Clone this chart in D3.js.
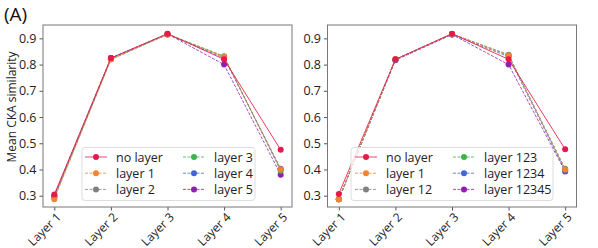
<!DOCTYPE html>
<html>
<head>
<meta charset="utf-8">
<script src="https://cdn.jsdelivr.net/npm/d3@7"></script>
<style>
  body { margin: 0; background: #fff; }
  text { font-family: "Open Sans", sans-serif; }
</style>
</head>
<body>
<div class="canvas"></div>
<script>
const width = 598;
const height = 248;

// data
const layers = ["Layer 1", "Layer 2", "Layer 3", "Layer 4", "Layer 5"];
const yTicks = [0.3, 0.4, 0.5, 0.6, 0.7, 0.8, 0.9];
const colors = ["#e6194b", "#f58231", "#808080", "#3cb44b", "#4363d8", "#911eb4"];

const namesA = ["no layer", "layer 1", "layer 2", "layer 3", "layer 4", "layer 5"];
const noLayerA = [0.305, 0.825, 0.918, 0.820, 0.475];
const layer1A = [0.287, 0.820, 0.915, 0.830, 0.400];
const layer2A = [0.293, 0.820, 0.915, 0.830, 0.400];
const layer3A = [0.295, 0.820, 0.917, 0.832, 0.395];
const layer4A = [0.297, 0.825, 0.915, 0.825, 0.403];
const layer5A = [0.300, 0.825, 0.917, 0.800, 0.380];

const namesB = ["no layer", "layer 1", "layer 12", "layer 123", "layer 1234", "layer 12345"];
const noLayerB = [0.307, 0.820, 0.918, 0.820, 0.477];
const layer1B = [0.287, 0.820, 0.917, 0.835, 0.400];
const layer12B = [0.287, 0.820, 0.917, 0.838, 0.400];
const layer123B = [0.287, 0.820, 0.917, 0.835, 0.403];
const layer1234B = [0.287, 0.818, 0.915, 0.830, 0.395];
const layer12345B = [0.287, 0.817, 0.915, 0.800, 0.392];

const svg = d3.select(".canvas")
  .append("svg")
  .attr("width", width)
  .attr("height", height);

svg.append("text")
  .attr("x", 4)
  .attr("y", 21)
  .attr("font-size", 19)
  .attr("fill", "#111")
  .text("(A)");

svg.append("text")
  .attr("transform", "translate(15.5, 107) rotate(-90)")
  .attr("text-anchor", "middle")
  .attr("font-size", 12)
  .attr("fill", "#222")
  .text("Mean CKA similarity");

function panel(left, series, names, legendBox) {
  const top = 25, bottom = 207, w = 249;
  const g = svg.append("g");

  const x = d3.scalePoint().domain(layers).range([left, left + w]).padding(0.2);
  const y = d3.scaleLinear().domain([0.257, 0.951]).range([bottom, top]);

  // y axis ticks
  const ya = g.append("g")
    .attr("transform", `translate(${left},0)`)
    .call(d3.axisLeft(y).tickValues(yTicks).tickFormat(d3.format(".1f")).tickSize(3.5).tickPadding(3));
  ya.select(".domain").remove();
  ya.selectAll("line").attr("stroke", "#555");
  ya.selectAll("text").attr("font-size", 12.5).attr("fill", "#222").attr("font-family", "Open Sans, sans-serif");

  // x axis ticks, rotated
  const xa = g.append("g")
    .attr("transform", `translate(0,${bottom})`)
    .call(d3.axisBottom(x).tickSize(3.5).tickPadding(3));
  xa.select(".domain").remove();
  xa.selectAll("line").attr("stroke", "#555");
  xa.selectAll("text")
    .attr("font-size", 12)
    .attr("fill", "#222")
    .attr("font-family", "Open Sans, sans-serif")
    .attr("text-anchor", "end")
    .attr("x", 0)
    .attr("y", 0)
    .attr("dy", "0.35em")
    .attr("transform", "translate(4,8) rotate(-45)");

  // lines
  const line = d3.line().x((d, i) => x(layers[i])).y(d => y(d));
  series.slice().reverse().forEach((s, k) => {
    const i = series.length - 1 - k;
    const c = colors[i];
    g.append("path")
      .datum(s)
      .attr("d", line)
      .attr("fill", "none")
      .attr("stroke", c)
      .attr("stroke-width", 1)
      .attr("stroke-opacity", i === 0 ? 0.85 : 0.8)
      .attr("stroke-dasharray", i === 0 ? null : "3,1.5");
    g.selectAll(null)
      .data(s)
      .enter()
      .append("circle")
      .attr("cx", (d, j) => x(layers[j]))
      .attr("cy", d => y(d))
      .attr("r", 3)
      .attr("fill", c);
  });

  // frame
  g.append("rect")
    .attr("x", left).attr("y", top)
    .attr("width", w).attr("height", bottom - top)
    .attr("fill", "none")
    .attr("stroke", "#777")
    .attr("stroke-width", 1);

  // legend
  const lg = g.append("g");
  lg.append("rect")
    .attr("x", legendBox.x).attr("y", 147.5)
    .attr("width", legendBox.w).attr("height", 53)
    .attr("rx", 3)
    .attr("fill", "#fff").attr("fill-opacity", 0.8)
    .attr("stroke", "#ddd");
  names.forEach((n, i) => {
    const col = Math.floor(i / 3), row = i % 3;
    const lx = legendBox.cols[col];
    const ly = 157 + row * 16.2;
    lg.append("line")
      .attr("x1", lx).attr("x2", lx + 22)
      .attr("y1", ly).attr("y2", ly)
      .attr("stroke", colors[i])
      .attr("stroke-width", 1)
      .attr("stroke-opacity", 0.8)
      .attr("stroke-dasharray", i === 0 ? null : "3,1.5");
    lg.append("circle")
      .attr("cx", lx + 11).attr("cy", ly).attr("r", 3)
      .attr("fill", colors[i]);
    lg.append("text")
      .attr("x", lx + 31).attr("y", ly + 4.5)
      .attr("font-size", 12.5)
      .attr("fill", "#222")
      .text(n);
  });
}

panel(43, [noLayerA, layer1A, layer2A, layer3A, layer4A, layer5A], namesA,
  { x: 82, w: 173, cols: [85, 183] });
panel(327.5, [noLayerB, layer1B, layer12B, layer123B, layer1234B, layer12345B], namesB,
  { x: 351, w: 202, cols: [355, 453] });
</script>
</body>
</html>
